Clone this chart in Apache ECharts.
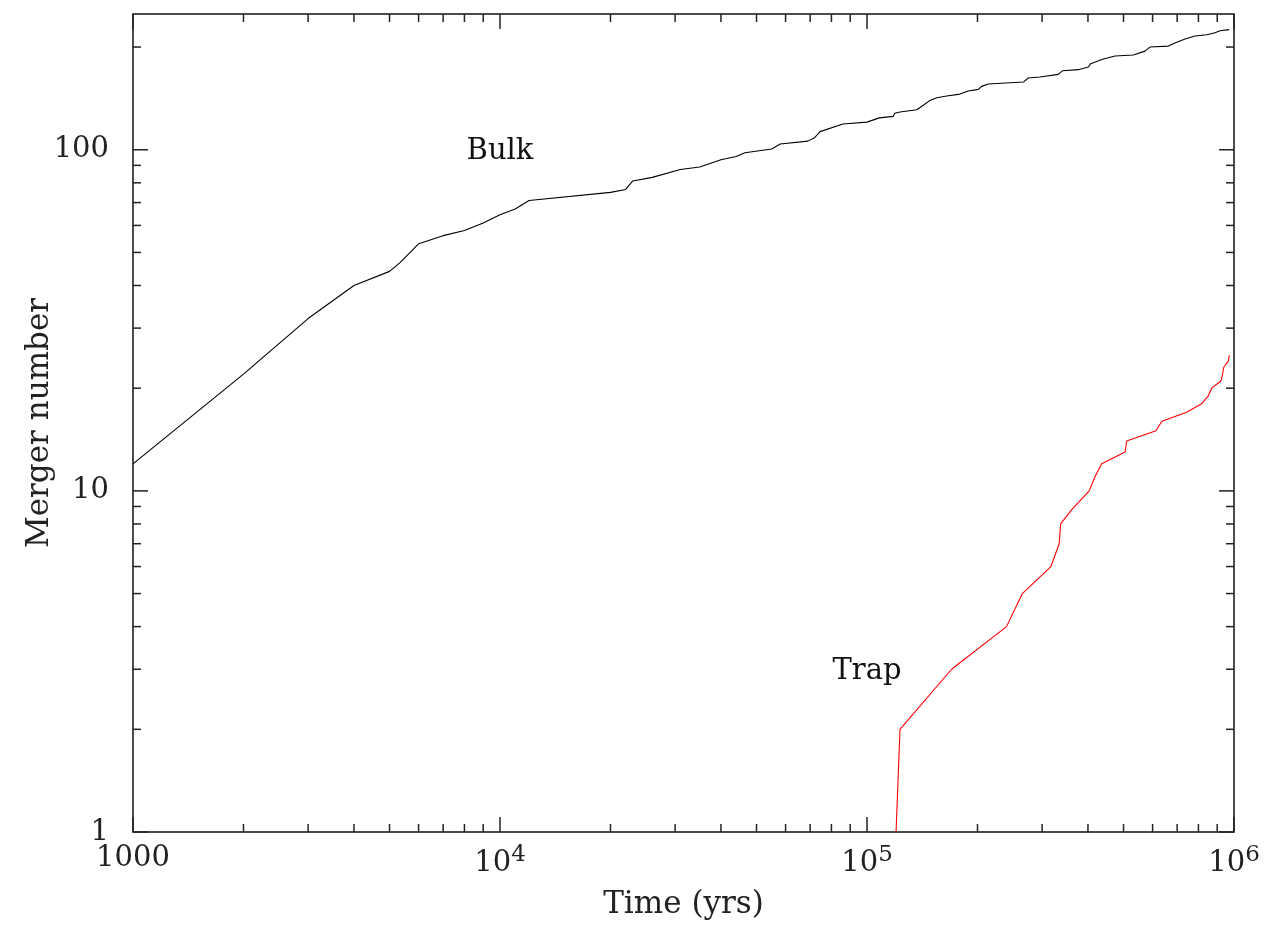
<!DOCTYPE html>
<html>
<head>
<meta charset="utf-8">
<script src="https://cdn.jsdelivr.net/npm/echarts@6/dist/echarts.min.js"></script>
<style>
html,body{margin:0;padding:0;background:#fff;}
#chart{width:1286px;height:925px;}
</style>
</head>
<body>
<div id="chart"></div>
<script>
// ---- data ----
const bulkTime = [1000, 2000, 3000, 4000, 5000, 5340, 6000, 7000, 8000, 9000, 10000, 11000, 12000, 20000, 22000, 23000, 26000, 31000, 35000, 40000, 44000, 46500, 55000, 58000, 69000, 72000, 74500, 86000, 100000, 108000, 117900, 119000, 123000, 136600, 142400, 148500, 154900, 164900, 179200, 188800, 201100, 205300, 214100, 266700, 275200, 296000, 332000, 341400, 376500, 400900, 406900, 440500, 474100, 531700, 572200, 590200, 662200, 690300, 735500, 783100, 842600, 887600, 916100, 970000];
const bulkCount = [12, 22, 32, 40, 44, 46.7, 53, 56, 58, 61, 64.5, 67, 71, 75, 76.5, 81, 83, 87.5, 89, 93.5, 95.5, 98, 100.5, 104, 106, 108.5, 113, 119, 120.5, 124, 125.3, 128, 129, 131, 135, 139.5, 142, 143.7, 145.6, 148.6, 150.3, 153.4, 155.8, 157.9, 162.3, 163.4, 166.3, 170.5, 171.7, 174.8, 178.8, 184.4, 188.2, 189.5, 194.6, 200, 201.3, 205.5, 211.1, 215.4, 217.4, 220.3, 223.3, 225];

const trapTime = [120000, 123000, 170000, 240000, 265000, 317000, 334000, 337000, 361000, 403000, 418000, 436000, 505000, 510000, 613000, 636000, 743000, 816000, 851000, 869000, 921000, 931000, 937000, 965000, 971000];
const trapCount = [1, 2, 3, 4, 5, 6, 7, 8, 8.8, 10, 11, 12, 13, 14, 15, 16, 17, 18, 19, 20, 21, 22, 23, 24, 25];

const annotations = [
  {text: 'Bulk', x: 10000, y: 99},
  {text: 'Trap', x: 100000, y: 2.96}
];

const xRange = [1000, 1000000];
const yRange = [1, 250];
const xMajorTicks = [1000, 10000, 100000, 1000000];
const yMajorTicks = [1, 10, 100];
const xDecades = [1000, 10000, 100000];
const yDecades = [1, 10, 100];
const minorMultipliers = [2, 3, 4, 5, 6, 7, 8, 9];
const xTickLabels = {1000: '1000', 10000: '10{sup|4}', 100000: '10{sup|5}', 1000000: '10{sup|6}'};
const yTickLabels = {1: '1', 10: '10', 100: '100'};
const xTitle = 'Time (yrs)';
const yTitle = 'Merger number';

// ---- build tick lists ----
function buildTicks(majors, decades, range) {
  const out = majors.map(v => [v, 1]);
  decades.forEach(d => minorMultipliers.forEach(m => {
    const v = d * m;
    if (v > range[0] && v < range[1]) out.push([v, 0]);
  }));
  return out;
}
const xTicks = buildTicks(xMajorTicks, xDecades, xRange);
const yTicks = buildTicks(yMajorTicks, yDecades, yRange);

const FONT = '"DejaVu Serif", serif';
const TXT = '#222';
const MAJ = 15, MIN = 8;

const chart = echarts.init(document.getElementById('chart'));
const zip = (a, b) => a.map((v, i) => [v, b[i]]);

chart.setOption({
  animation: false,
  backgroundColor: '#fff',
  grid: {left: 133, right: 52, top: 14, bottom: 93, show: true, borderColor: '#111', borderWidth: 1.5, backgroundColor: 'transparent'},
  xAxis: {
    type: 'log', logBase: 10, min: xRange[0], max: xRange[1],
    name: xTitle, nameLocation: 'middle', nameGap: 57, nameMoveOverlap: false,
    nameTextStyle: {fontFamily: FONT, fontSize: 31, color: TXT},
    axisLine: {show: false}, axisTick: {show: false}, splitLine: {show: false}, minorTick: {show: false},
    axisLabel: {
      margin: 12, color: TXT, fontFamily: FONT, fontSize: 29,
      showMinLabel: true, showMaxLabel: true,
      formatter: v => { const k = Math.round(Math.log10(v)); const key = Math.pow(10, k); return (Math.abs(Math.log10(v) - k) < 1e-6 && xTickLabels[key]) ? xTickLabels[key] : ''; },
      rich: {
        sup: {fontFamily: FONT, fontSize: 23, color: TXT, padding: [0, 0, 16, 0]}
      }
    }
  },
  yAxis: {
    type: 'log', logBase: 10, min: yRange[0], max: yRange[1],
    name: yTitle, nameLocation: 'middle', nameGap: 78, nameRotate: 90, nameMoveOverlap: false,
    nameTextStyle: {fontFamily: FONT, fontSize: 31, color: TXT},
    axisLine: {show: false}, axisTick: {show: false}, splitLine: {show: false}, minorTick: {show: false},
    axisLabel: {
      margin: 24, color: TXT, fontFamily: FONT, fontSize: 29,
      formatter: v => { const k = Math.round(Math.log10(v)); const key = Math.pow(10, k); return (Math.abs(Math.log10(v) - k) < 1e-6 && yTickLabels[key]) ? yTickLabels[key] : ''; }
    }
  },
  series: [
    {
      type: 'line', name: 'Bulk', data: zip(bulkTime, bulkCount), showSymbol: false, symbol: 'none',
      lineStyle: {color: '#000', width: 1.1}, z: 3
    },
    {
      type: 'line', name: 'Trap', data: zip(trapTime, trapCount), showSymbol: false, symbol: 'none',
      lineStyle: {color: '#ff0000', width: 1.1}, z: 3
    },
    {
      type: 'scatter', data: annotations.map(a => ({value: [a.x, a.y], name: a.text})),
      symbolSize: 1, itemStyle: {color: 'rgba(0,0,0,0)'}, silent: true, z: 5,
      label: {show: true, position: 'inside', formatter: p => p.name, fontFamily: FONT, fontSize: 29, color: '#111', opacity: 1, textBorderWidth: 0}
    },
    {
      type: 'custom', clip: false, silent: true, z: 4,
      data: xTicks,
      renderItem: (params, api) => {
        const v = api.value(0);
        const len = api.value(1) === 1 ? MAJ : MIN;
        const b = api.coord([v, yRange[0]]);
        const t = api.coord([v, yRange[1]]);
        return {type: 'group', children: [
          {type: 'line', shape: {x1: b[0], y1: b[1], x2: b[0], y2: b[1] - len}, style: {stroke: '#222', lineWidth: 1.5}},
          {type: 'line', shape: {x1: t[0], y1: t[1], x2: t[0], y2: t[1] + len}, style: {stroke: '#222', lineWidth: 1.5}}
        ]};
      },
      encode: {x: 0}
    },
    {
      type: 'custom', clip: false, silent: true, z: 4,
      data: yTicks.map(t => [xRange[0], t[0], t[1]]),
      renderItem: (params, api) => {
        const v = api.value(1);
        const len = api.value(2) === 1 ? MAJ : MIN;
        const l = api.coord([xRange[0], v]);
        const r = api.coord([xRange[1], v]);
        return {type: 'group', children: [
          {type: 'line', shape: {x1: l[0], y1: l[1], x2: l[0] + len, y2: l[1]}, style: {stroke: '#222', lineWidth: 1.5}},
          {type: 'line', shape: {x1: r[0], y1: r[1], x2: r[0] - len, y2: r[1]}, style: {stroke: '#222', lineWidth: 1.5}}
        ]};
      },
      encode: {x: 0, y: 1}
    }
  ]
});
</script>
</body>
</html>
